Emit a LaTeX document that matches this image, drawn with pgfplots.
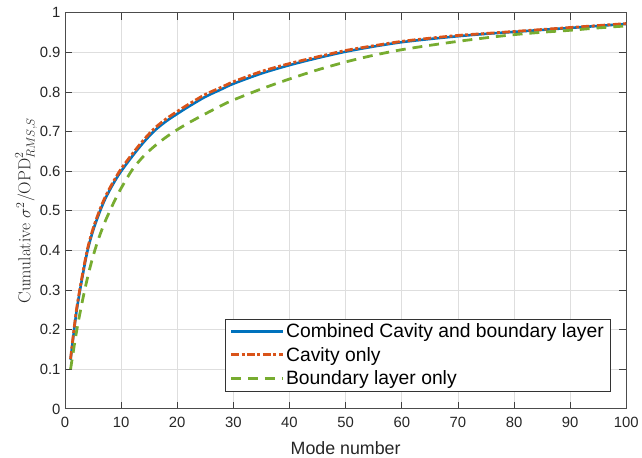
\documentclass[border=0pt]{standalone}
\usepackage{pgfplots}
\pgfplotsset{compat=1.18}
\usetikzlibrary{calc}
\usepackage{fontspec}
\newfontfamily\arial{Liberation Sans}

\definecolor{mblue}{rgb}{0,0.447,0.741}
\definecolor{morange}{rgb}{0.85,0.325,0.098}
\definecolor{mgreen}{rgb}{0.466,0.674,0.188}

\begin{document}
\begin{tikzpicture}
\begin{axis}[
  name=ax,
  scale only axis,
  width=567pt, height=400pt,
  xmin=0, xmax=100, ymin=0, ymax=1,
  xtick={0,10,...,100},
  ytick={0,0.1,...,1},
  yticklabels={0,0.1,0.2,0.3,0.4,0.5,0.6,0.7,0.8,0.9,1},
  /pgf/number format/assume math mode=true,
  tick label style={font=\arial\fontsize{15}{18}\selectfont, text=black!85},
  xticklabel style={yshift=-5pt},
  yticklabel style={xshift=-1pt},
  major tick length=7pt,
  tick style={color=black!75, line width=0.8pt},
  axis line style={color=black!70, line width=0.8pt},
  grid=major,
  major grid style={color=black!13, line width=0.8pt},
  xlabel={\arial\fontsize{18}{21}\selectfont Mode number},
  xlabel style={text=black!85, yshift=-7pt},
  ylabel={\fontsize{17.5}{20}\selectfont Cumulative $\sigma^2/\mathrm{OPD}^2_{RMS,S}$},
  ylabel style={text=black!85, yshift=-4pt},
  legend style={
    at={(0.9725,0.045)}, anchor=south east,
    font=\arial\fontsize{19.5}{23}\selectfont,
    draw=black!80,
    inner xsep=5pt, inner ysep=3pt,
    row sep=4pt,
    cells={anchor=west},
  },
  legend image code/.code={
    \draw[#1] (0pt,0pt) -- (52pt,0pt);
  },
]
% combined cavity and boundary layer
\addplot[color=mblue, line width=2.6pt, smooth] coordinates {
 (1,0.124) (2,0.240) (3,0.325) (4,0.398) (5,0.450) (6,0.490) (7,0.525)
 (8,0.553) (9,0.578) (10,0.600) (12,0.638) (14,0.673) (16,0.703)
 (18,0.726) (20,0.745) (22,0.763) (25,0.788) (28,0.808) (30,0.821)
 (35,0.847) (40,0.868) (45,0.886) (50,0.902) (55,0.915) (60,0.926)
 (65,0.934) (70,0.941) (75,0.947) (80,0.952) (85,0.957) (90,0.962)
 (95,0.967) (100,0.972)
};
\addlegendentry{Combined Cavity and boundary layer}
% cavity only
\addplot[color=morange, line width=2.8pt, smooth,
  dash pattern=on 8pt off 2.5pt on 3pt off 2.5pt] coordinates {
 (1,0.126) (2,0.245) (3,0.330) (4,0.403) (5,0.455) (6,0.495) (7,0.530)
 (8,0.558) (9,0.583) (10,0.606) (12,0.644) (14,0.679) (16,0.709)
 (18,0.732) (20,0.751) (22,0.769) (25,0.794) (28,0.813) (30,0.826)
 (35,0.852) (40,0.872) (45,0.889) (50,0.905) (55,0.917) (60,0.928)
 (65,0.936) (70,0.943) (75,0.948) (80,0.953) (85,0.958) (90,0.963)
 (95,0.968) (100,0.973)
};
\addlegendentry{Cavity only}
% boundary layer only
\addplot[color=mgreen, line width=2.8pt, smooth,
  dash pattern=on 10pt off 7pt] coordinates {
 (1,0.100) (2,0.190) (3,0.265) (4,0.330) (5,0.385) (6,0.430) (7,0.468)
 (8,0.500) (9,0.530) (10,0.557) (12,0.604) (14,0.638) (16,0.664)
 (18,0.686) (20,0.705) (22,0.722) (25,0.745) (28,0.767) (30,0.780)
 (35,0.808) (40,0.833) (45,0.856) (50,0.876) (55,0.893) (60,0.907)
 (65,0.918) (70,0.928) (75,0.937) (80,0.945) (85,0.951) (90,0.956)
 (95,0.962) (100,0.967)
};
\addlegendentry{Boundary layer only}
\end{axis}
\path (ax.south west) ++(-65.6pt,-48pt) rectangle ($(ax.north east)+(9.3pt,13pt)$);
\end{tikzpicture}
\end{document}
